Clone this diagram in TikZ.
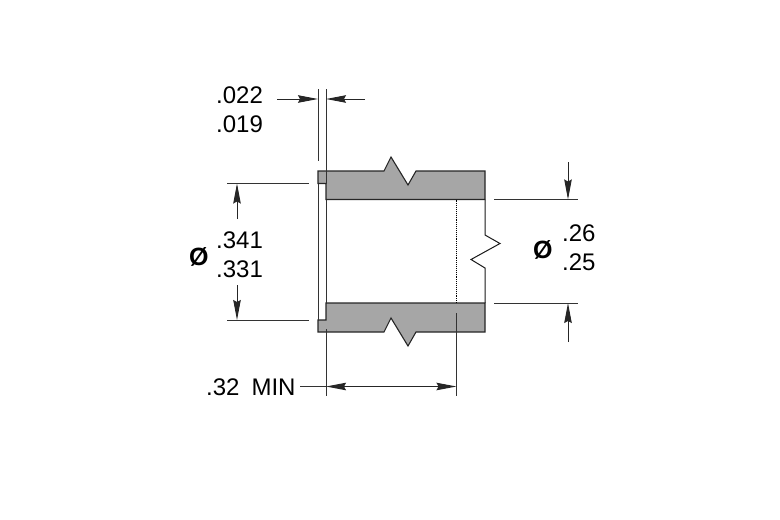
\documentclass[tikz,border=0pt]{standalone}
\usepackage{fontspec}
\setmainfont{Liberation Sans}
\usetikzlibrary{arrows.meta}
\tikzset{
  dimtext/.style={anchor=west,inner sep=0pt,font=\fontsize{24}{28}\selectfont},
  symtext/.style={anchor=west,inner sep=0pt,font=\fontsize{25}{28}\selectfont\bfseries},
  extline/.style={draw=black!80,line width=1pt},
  dimline/.style={draw=black!85,line width=1pt,-{Stealth[length=20pt,width=7.5pt,inset=2pt]}},
  sleeve/.style={fill=black!35,draw=black!85,line width=1.1pt,line join=miter}
}
\begin{document}
\begin{tikzpicture}[x=1pt,y=-1pt]
\useasboundingbox (0,0) rectangle (780,520);
% sleeve walls
\draw[sleeve] (318,183.5) -- (318,171) -- (384,171) -- (391,157) -- (408,185) -- (416,171) -- (485,171) -- (485,199.5) -- (326,199.5) -- (326,183.5) -- cycle;
\draw[sleeve] (318,320) -- (318,332) -- (384,332) -- (391,318) -- (408,346) -- (416,332) -- (485,332) -- (485,303) -- (326,303) -- (326,320) -- cycle;
% open bore and break line
\draw[extline] (318,183.5) -- (318,320);
\draw[extline] (326,199.5) -- (326,303);
\draw[black!90,line width=1pt] (485,199.5) -- (485,235) -- (500,243.5) -- (471,259.5) -- (485,268) -- (485,303);
\draw[black,line width=0.9pt,densely dotted] (456.5,199.5) -- (456.5,303);
% extension lines
\draw[extline] (318,89) -- (318,161);
\draw[extline] (326,89) -- (326,183.5);
\draw[extline] (227,183.5) -- (309,183.5);
\draw[extline] (227,320) -- (309,320);
\draw[extline] (494,199.5) -- (578,199.5);
\draw[extline] (494,303) -- (578,303);
\draw[extline] (326,329) -- (326,396);
\draw[extline] (456.5,313) -- (456.5,396);
% dimensions
\node[dimtext] (wallmax) at (216,95) {.022};
\node[dimtext] (wallmin) at (216,124) {.019};
\node[symtext] (odsym) at (189,257) {Ø};
\node[dimtext] (odmax) at (216,240) {.341};
\node[dimtext] (odmin) at (216,269) {.331};
\node[symtext] (idsym) at (533,250) {Ø};
\node[dimtext] (idmax) at (562,233) {.26};
\node[dimtext] (idmin) at (562,262) {.25};
\node[dimtext] (depth) at (206,387) {.32\hspace{0.5em}MIN};
\draw[dimline] (277,99) -- (318,99);
\draw[dimline] (365,99) -- (326,99);
\draw[dimline] (237,219) -- (237,183.5);
\draw[dimline] (237,285) -- (237,320);
\draw[dimline] (568,162) -- (568,199.5);
\draw[dimline] (568,342) -- (568,303);
\draw[dimline] (391,386.5) -- (326,386.5);
\draw[dimline] (391,386.5) -- (456.5,386.5);
\draw[extline] (300,386.5) -- (326,386.5);
\end{tikzpicture}
\end{document}
